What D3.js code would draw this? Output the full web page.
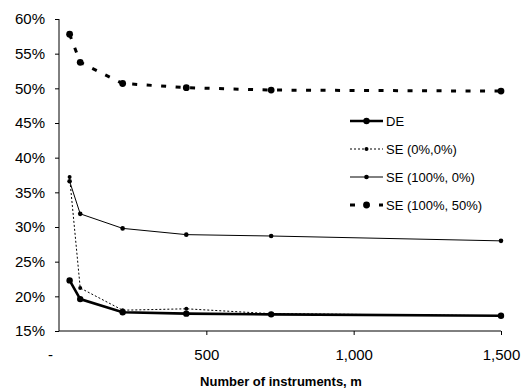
<!DOCTYPE html>
<html>
<head>
<meta charset="utf-8">
<script src="https://cdn.jsdelivr.net/npm/d3@7"></script>
<style>
  html, body { margin: 0; padding: 0; background: #fff; }
  svg { display: block; font-family: Arial, "Liberation Sans", sans-serif; }
</style>
</head>
<body>
<div id="chart"></div>
<script>
  const width = 523
      , height = 388
      , margin = {top: 19, right: 22, bottom: 57, left: 59}
      ;

  // number of instruments
  const instruments = [36, 72, 216, 432, 720, 1500];

  // series values, in %
  const deValues      = [22.3, 19.6, 17.7, 17.5, 17.4, 17.2];
  const se00Values    = [37.2, 21.2, 18.0, 18.2, 17.5, 17.2];
  const se1000Values  = [36.6, 31.9, 29.8, 28.9, 28.7, 28.0];
  const se10050Values = [57.8, 53.75, 50.7, 50.1, 49.75, 49.6];

  const seriesNames = ['DE', 'SE (0%,0%)', 'SE (100%, 0%)', 'SE (100%, 50%)'];

  const xTicks = [0, 500, 1000, 1500];
  const xTickLabels = ['-', '500', '1,000', '1,500'];
  const yTicks = [15, 20, 25, 30, 35, 40, 45, 50, 55, 60];

  // line looks, one per series (same order as seriesNames)
  const styles = [
    {width: 2.6, dash: null,     r: 3.2},
    {width: 1,   dash: '2,2',    r: 2},
    {width: 1,   dash: null,     r: 2.3},
    {width: 3,   dash: '5,9.5',  r: 3.4}
  ];

  const series = [deValues, se00Values, se1000Values, se10050Values].map((vals, i) => ({
    name: seriesNames[i],
    style: styles[i],
    points: vals.map((v, j) => ({m: instruments[j], v: v}))
  }));

  const x = d3.scaleLinear()
    .domain([0, 1500])
    .range([margin.left, width - margin.right]);

  const y = d3.scaleLinear()
    .domain([15, 60])
    .range([height - margin.bottom, margin.top]);

  const svg = d3.select('#chart')
    .append('svg')
    .attr('width', width)
    .attr('height', height);

  // y axis
  const yAxis = svg.append('g')
    .attr('transform', `translate(${margin.left},0)`)
    .call(d3.axisLeft(y).tickValues(yTicks).tickSize(4).tickPadding(10).tickFormat(d => d + '%'));
  yAxis.select('.domain').attr('d', `M0,${y(15)}V${y(60)}`).attr('stroke', '#000');
  yAxis.selectAll('.tick line').attr('stroke', '#000');
  yAxis.selectAll('.tick text')
    .attr('font-size', 15)
    .attr('fill', '#000')
    .attr('font-family', 'Arial, "Liberation Sans", sans-serif');

  // x axis
  const xAxis = svg.append('g')
    .attr('transform', `translate(0,${y(15)})`)
    .call(d3.axisBottom(x).tickValues(xTicks).tickSize(4).tickPadding(14)
      .tickFormat((d, i) => xTickLabels[i]));
  xAxis.select('.domain').attr('d', `M${x(0)},0H${x(1500)}`).attr('stroke', '#000');
  xAxis.selectAll('.tick line').attr('stroke', d => d === 0 ? 'none' : '#000');
  xAxis.selectAll('.tick text')
    .attr('font-size', 15)
    .attr('fill', '#000')
    .attr('font-family', 'Arial, "Liberation Sans", sans-serif')
    .attr('dx', d => d === 0 ? -9 : 0);

  svg.append('text')
    .attr('x', (x(0) + x(1500)) / 2 + 1)
    .attr('y', 386)
    .attr('text-anchor', 'middle')
    .attr('font-size', 13)
    .attr('font-weight', 'bold')
    .text('Number of instruments, m');

  const line = d3.line()
    .x(d => x(d.m))
    .y(d => y(d.v));

  // draw back to front so DE ends up on top
  const order = [3, 2, 1, 0];
  order.forEach(i => {
    const s = series[i];
    const g = svg.append('g');
    g.append('path')
      .datum(s.points)
      .attr('d', line)
      .attr('fill', 'none')
      .attr('stroke', '#000')
      .attr('stroke-width', s.style.width)
      .attr('stroke-dasharray', s.style.dash);
    g.selectAll('circle')
      .data(s.points)
      .join('circle')
        .attr('cx', d => x(d.m))
        .attr('cy', d => y(d.v))
        .attr('r', s.style.r)
        .attr('fill', '#000');
  });

  // legend
  const legend = svg.append('g')
    .attr('transform', 'translate(350,121)');

  const item = legend.selectAll('g')
    .data(series)
    .join('g')
      .attr('transform', (d, i) => `translate(0,${i * 28})`);

  item.append('line')
    .attr('x1', 0)
    .attr('x2', 33)
    .attr('stroke', '#000')
    .attr('stroke-width', d => d.style.width)
    .attr('stroke-dasharray', d => d.style.dash);

  item.append('circle')
    .attr('cx', 16.5)
    .attr('r', d => d.style.r)
    .attr('fill', '#000');

  item.append('text')
    .attr('x', 36)
    .attr('dy', '0.35em')
    .attr('font-size', 13)
    .text(d => d.name);
</script>
</body>
</html>
